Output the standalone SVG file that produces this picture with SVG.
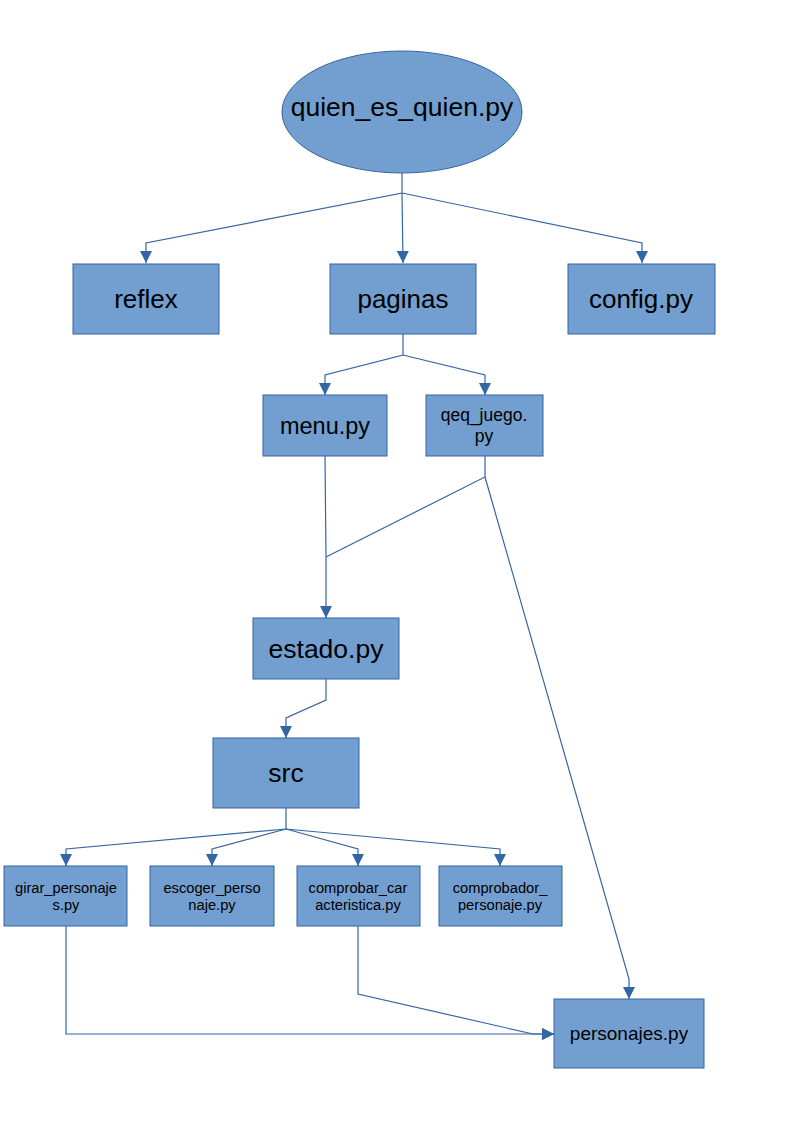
<svg xmlns="http://www.w3.org/2000/svg" width="794" height="1123" viewBox="0 0 794 1123">
<style>
.n{fill:#729fcf;stroke:#3465a4;stroke-width:1}
.t{font-family:"Liberation Sans",Arial,sans-serif;fill:#000;text-anchor:middle}
.c{fill:none;stroke:#3465a4;stroke-width:1.2}
</style>
<defs>
<marker id="a" viewBox="0 0 12 12" refX="12" refY="6" markerWidth="12" markerHeight="12" markerUnits="userSpaceOnUse" orient="auto">
<path d="M0,0 L12,6 L0,12 Z" fill="#3465a4"/>
</marker>
</defs>
<rect width="794" height="1123" fill="#fff"/>
<g id="connectors">
<path class="c" d="M402,173 V193 L146,243 V263" marker-end="url(#a)"/>
<path class="c" d="M402,193 L403,263" marker-end="url(#a)"/>
<path class="c" d="M402,193 L642,243 V263" marker-end="url(#a)"/>
<path class="c" d="M403,334 V355 L325,375 V395" marker-end="url(#a)"/>
<path class="c" d="M403,355 L485,375 V395" marker-end="url(#a)"/>
<path class="c" d="M325,456 L326,557 V618" marker-end="url(#a)"/>
<path class="c" d="M485,456 V477 L326,557"/>
<path class="c" d="M485,477 L629,979 V999" marker-end="url(#a)"/>
<path class="c" d="M326,679 V700 L286,718 V738" marker-end="url(#a)"/>
<path class="c" d="M286,808 V829 L66,849 V866" marker-end="url(#a)"/>
<path class="c" d="M286,829 L212,849 V866" marker-end="url(#a)"/>
<path class="c" d="M286,829 L358,849 V866" marker-end="url(#a)"/>
<path class="c" d="M286,829 L500,849 V866" marker-end="url(#a)"/>
<path class="c" d="M66,926 V1034 H554" marker-end="url(#a)"/>
<path class="c" d="M358,926 V994 L533,1034 H554" marker-end="url(#a)"/>
</g>
<g id="root">
<ellipse class="n" cx="402" cy="112" rx="120" ry="61"/>
<text class="t" x="402" y="116" font-size="26.5">quien_es_quien.py</text>
</g>
<g id="reflex">
<rect class="n" x="73" y="264" width="146" height="70"/>
<text class="t" x="146" y="308" font-size="26">reflex</text>
</g>
<g id="paginas">
<rect class="n" x="330" y="264" width="146" height="70"/>
<text class="t" x="403" y="308" font-size="26">paginas</text>
</g>
<g id="config">
<rect class="n" x="568" y="264" width="147" height="70"/>
<text class="t" x="641" y="308" font-size="26">config.py</text>
</g>
<g id="menu">
<rect class="n" x="263" y="395" width="124" height="61"/>
<text class="t" x="325" y="434" font-size="23.5">menu.py</text>
</g>
<g id="qeq_juego">
<rect class="n" x="426" y="395" width="117" height="61"/>
<text class="t" x="484" y="421" font-size="17.5">qeq_juego.</text>
<text class="t" x="484" y="442" font-size="17.5">py</text>
</g>
<g id="estado">
<rect class="n" x="253" y="618" width="146" height="61"/>
<text class="t" x="326" y="658" font-size="26.5">estado.py</text>
</g>
<g id="src">
<rect class="n" x="213" y="738" width="146" height="70"/>
<text class="t" x="286" y="782" font-size="26.5">src</text>
</g>
<g id="girar">
<rect class="n" x="4" y="866" width="123" height="60"/>
<text class="t" x="66" y="893" font-size="14.7">girar_personaje</text>
<text class="t" x="66" y="910" font-size="14.7">s.py</text>
</g>
<g id="escoger">
<rect class="n" x="150" y="866" width="124" height="60"/>
<text class="t" x="212" y="893" font-size="14.7">escoger_perso</text>
<text class="t" x="212" y="910" font-size="14.7">naje.py</text>
</g>
<g id="comprobar">
<rect class="n" x="297" y="866" width="123" height="60"/>
<text class="t" x="358" y="893" font-size="14.7">comprobar_car</text>
<text class="t" x="358" y="910" font-size="14.7">acteristica.py</text>
</g>
<g id="comprobador">
<rect class="n" x="439" y="866" width="123" height="60"/>
<text class="t" x="500" y="893" font-size="14.7">comprobador_</text>
<text class="t" x="500" y="910" font-size="14.7">personaje.py</text>
</g>
<g id="personajes">
<rect class="n" x="554" y="999" width="150" height="69"/>
<text class="t" x="629" y="1040" font-size="19">personajes.py</text>
</g>
</svg>
